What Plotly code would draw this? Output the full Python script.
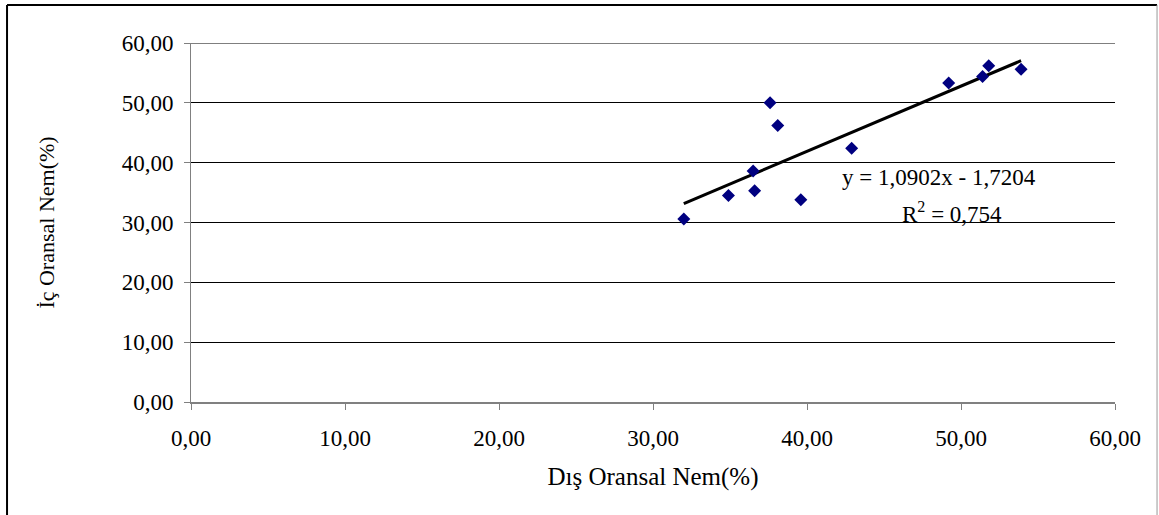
import plotly.graph_objects as go

# Data
dis_nem = [32.0, 34.9, 36.5, 36.6, 37.6, 38.1, 39.6, 42.9, 49.2, 51.4, 51.8, 53.9]
ic_nem = [30.6, 34.5, 38.6, 35.3, 50.0, 46.2, 33.8, 42.4, 53.3, 54.4, 56.2, 55.6]
slope = 1.0902
intercept = -1.7204
r2 = 0.754
tick_vals = [0, 10, 20, 30, 40, 50, 60]

FONT = "Liberation Serif"

trend_x = [min(dis_nem), max(dis_nem)]
trend_y = [slope * v + intercept for v in trend_x]

fig = go.Figure()
fig.add_trace(go.Scatter(
    x=trend_x, y=trend_y, mode="lines",
    line=dict(color="black", width=3), hoverinfo="skip", showlegend=False))
fig.add_trace(go.Scatter(
    x=dis_nem, y=ic_nem, mode="markers",
    marker=dict(symbol="diamond", color="#000080", size=10, line=dict(width=0)),
    showlegend=False))

fig.add_annotation(x=48.6, y=37.5, xref="x", yref="y",
                   text="y = 1,0902x - 1,7204", showarrow=False,
                   font=dict(family=FONT, size=23, color="black"))
fig.add_annotation(x=49.4, y=31.7, xref="x", yref="y",
                   text="R<sup>2</sup> = 0,754", showarrow=False,
                   font=dict(family=FONT, size=23, color="black"))

# top gridline at the upper end of the y range
fig.add_shape(type="line", xref="paper", yref="y", x0=0, x1=1, y0=max(tick_vals), y1=max(tick_vals),
              line=dict(color="black", width=1))

# outer frame lines
fig.add_shape(type="line", xref="paper", yref="paper", x0=-0.1991, x1=1.0455, y0=1.1058, y1=1.1058,
              line=dict(color="black", width=2))
fig.add_shape(type="line", xref="paper", yref="paper", x0=-0.1991, x1=-0.1991, y0=1.1058, y1=-0.4,
              line=dict(color="black", width=2))
fig.add_shape(type="line", xref="paper", yref="paper", x0=1.0455, x1=1.0455, y0=1.1058, y1=-0.4,
              line=dict(color="#999999", width=1))

fig.update_layout(
    width=1159, height=515,
    margin=dict(l=191, r=44, t=43, b=113, autoexpand=False),
    paper_bgcolor="white", plot_bgcolor="white",
    separators=", ",
    font=dict(family=FONT, size=23, color="black"),
    xaxis=dict(
        range=[0, 60], tickvals=tick_vals, tickformat=".2f",
        showgrid=False, zeroline=False,
        showline=True, linecolor="#808080", linewidth=2,
        ticks="outside", ticklen=6, tickcolor="#808080", tickwidth=1,
        ticklabelstandoff=8,
        tickfont=dict(family=FONT, size=23, color="black"),
        title=dict(text="Dış Oransal Nem(%)", standoff=18,
                   font=dict(family=FONT, size=25, color="black")),
    ),
    yaxis=dict(
        range=[0, 60], tickvals=tick_vals, tickformat=".2f",
        showgrid=True, gridcolor="black", gridwidth=1,
        zeroline=False,
        showline=True, linecolor="#808080", linewidth=1,
        ticks="outside", ticklen=6, tickcolor="#808080", tickwidth=1,
        ticklabelstandoff=6,
        tickfont=dict(family=FONT, size=23, color="black"),
        title=dict(text="İç Oransal Nem(%)", standoff=60,
                   font=dict(family=FONT, size=22, color="black")),
    ),
)

fig.write_html("out.html",
               config={"displayModeBar": False},
               post_script="document.body.style.margin='0';document.body.style.padding='0';")
